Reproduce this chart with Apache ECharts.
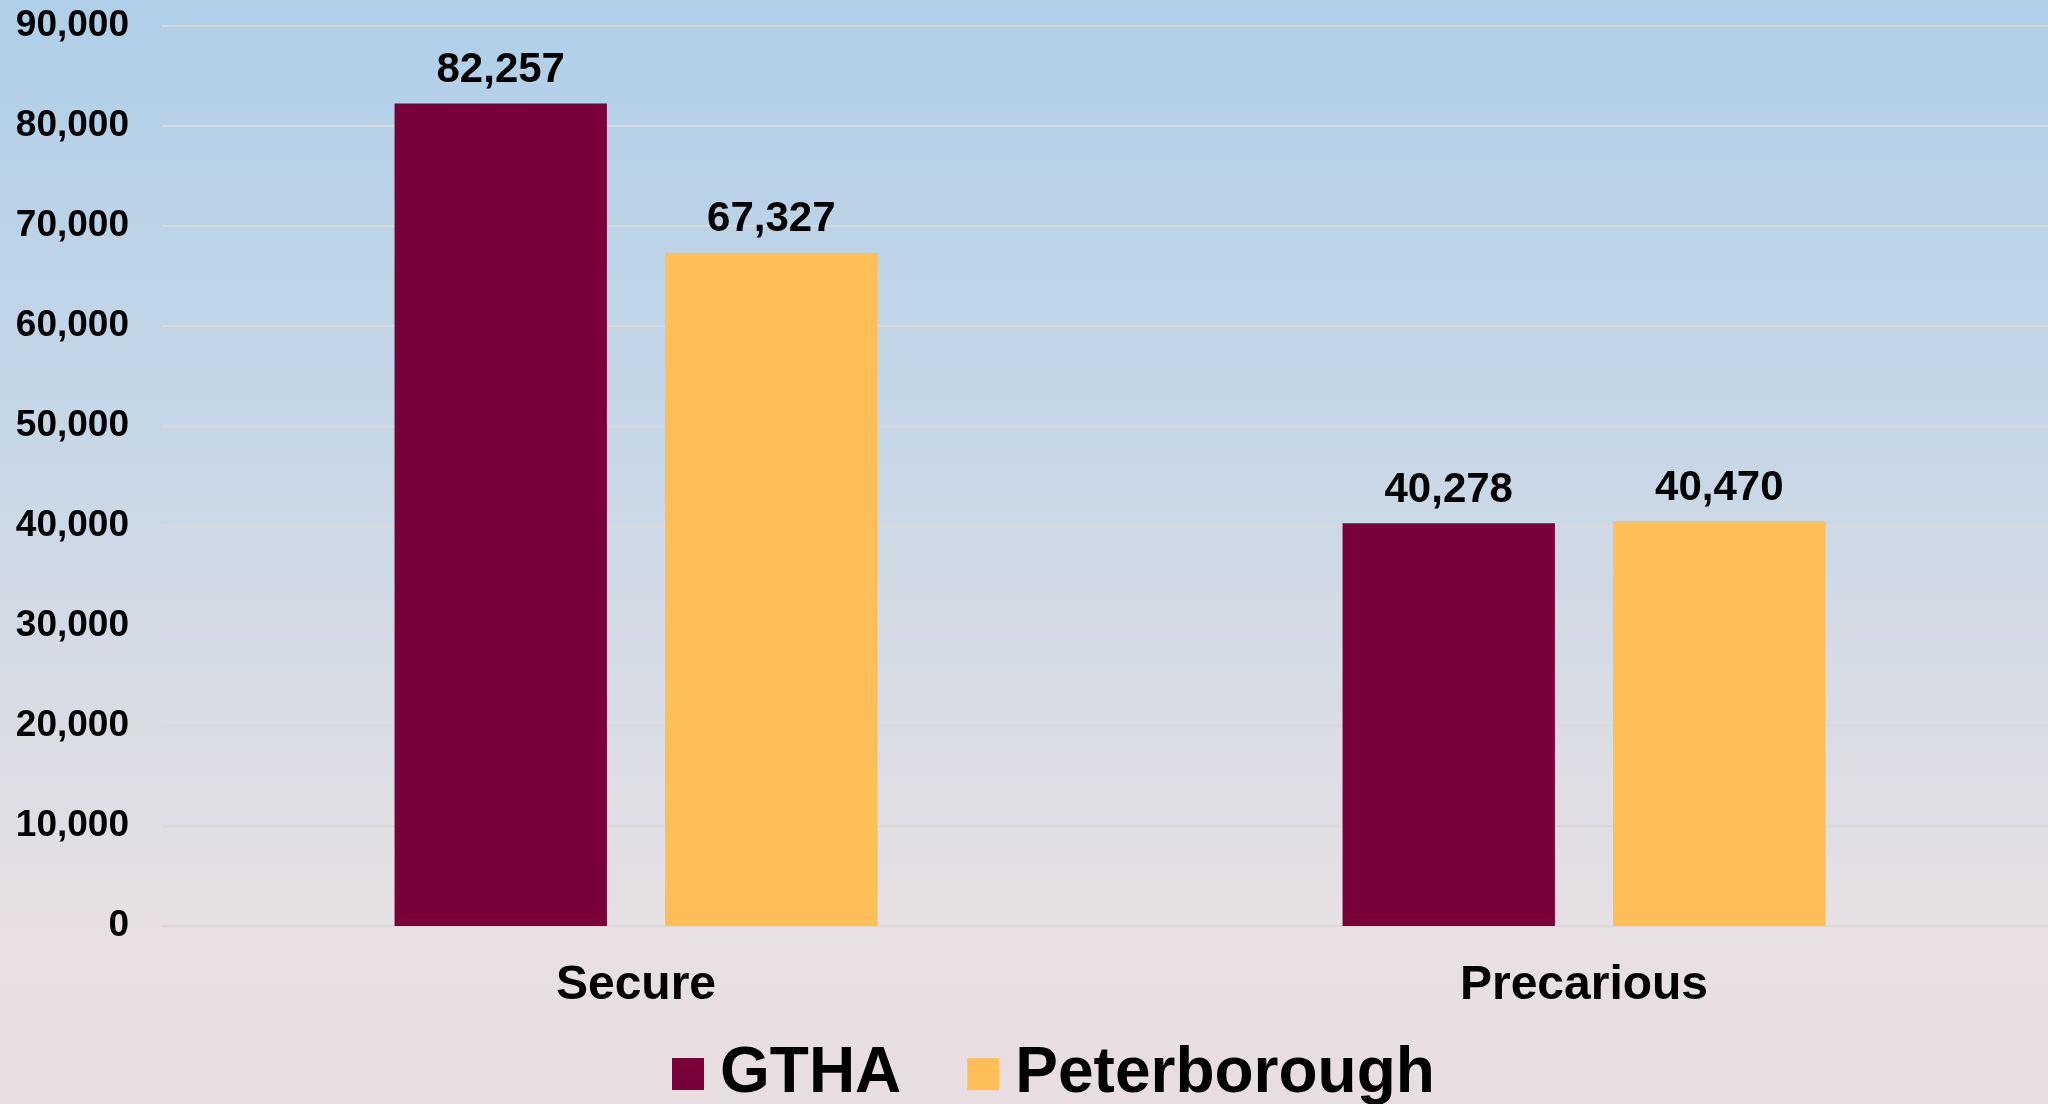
<!DOCTYPE html>
<html>
<head>
<meta charset="utf-8">
<script src="https://cdn.jsdelivr.net/npm/echarts@6/dist/echarts.min.js"></script>
<style>
html,body{margin:0;padding:0;width:2048px;height:1104px;overflow:hidden;}
#chart{width:2058px;height:1104px;}
</style>
</head>
<body>
<div id="chart"></div>
<script>
const categories = ['Secure', 'Precarious'];
const seriesNames = ['GTHA', 'Peterborough'];
const gthaValues = [82257, 40278];
const peterboroughValues = [67327, 40470];
const seriesColors = ['#7a003a', '#ffbe57'];
const yMax = 90000;
const yInterval = 10000;

const FONT = '"Liberation Sans", Arial, sans-serif';
const chart = echarts.init(document.getElementById('chart'));

const labelCfg = {
  show: true,
  position: 'top',
  distance: 12,
  color: '#000',
  fontFamily: FONT,
  fontWeight: 'bold',
  fontSize: 42,
  formatter: p => p.value.toLocaleString('en-US')
};

chart.setOption({
  backgroundColor: {
    type: 'linear', x: 0, y: 0, x2: 0, y2: 1,
    colorStops: [
      {offset: 0, color: '#afcfe9'},
      {offset: 0.45, color: '#cad8e6'},
      {offset: 0.85, color: '#e8e0e3'},
      {offset: 1, color: '#e8dee2'}
    ]
  },
  animation: false,
  grid: {left: 162, right: 0, top: 26, bottom: 178, containLabel: false},
  legend: {
    data: seriesNames,
    left: 667,
    top: 1037,
    itemWidth: 32,
    itemHeight: 32,
    itemGap: 66,
    icon: 'rect',
    textStyle: {
      color: '#000', fontFamily: FONT, fontWeight: 'bold', fontSize: 64,
      padding: [0, 0, 0, 11]
    }
  },
  xAxis: {
    type: 'category',
    data: categories,
    axisLine: {lineStyle: {color: '#d9d9d9', width: 2}},
    axisTick: {show: false},
    axisLabel: {
      color: '#000', fontFamily: FONT, fontWeight: 'bold', fontSize: 48, margin: 36
    }
  },
  yAxis: {
    type: 'value',
    min: 0,
    max: yMax,
    interval: yInterval,
    axisLine: {show: false},
    axisTick: {show: false},
    splitLine: {lineStyle: {color: '#d9d9d9', width: 2}},
    axisLabel: {
      color: '#000', fontFamily: FONT, fontWeight: 'bold', fontSize: 37, margin: 33,
      formatter: v => v.toLocaleString('en-US')
    }
  },
  series: [
    {
      name: seriesNames[0], type: 'bar', data: gthaValues,
      barWidth: '22.4%', barGap: '27.4%',
      itemStyle: {color: seriesColors[0]},
      label: labelCfg
    },
    {
      name: seriesNames[1], type: 'bar', data: peterboroughValues,
      barWidth: '22.4%', barGap: '27.4%',
      itemStyle: {color: seriesColors[1]},
      label: labelCfg
    }
  ]
});
</script>
</body>
</html>
